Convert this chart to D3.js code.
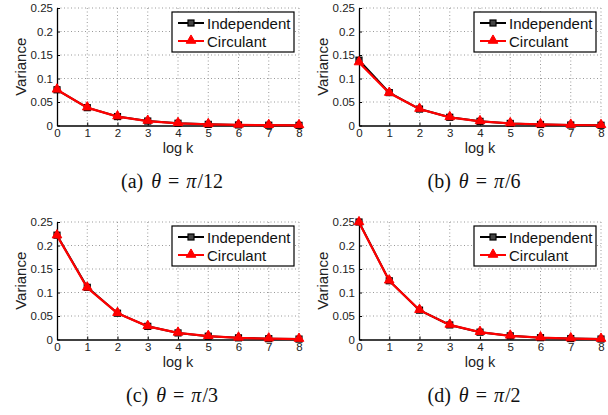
<!DOCTYPE html>
<html>
<head>
<meta charset="utf-8">
<script src="https://cdn.jsdelivr.net/npm/d3@7"></script>
<style>
  body { margin: 0; background: #fff; }
  svg { display: block; }
</style>
</head>
<body>
<svg id="fig"></svg>
<script>
const width = 608
const height = 415

// log k on the x axis
const logK = [0, 1, 2, 3, 4, 5, 6, 7, 8]
const xTicks = [0, 1, 2, 3, 4, 5, 6, 7, 8]
const yTicks = [0, 0.05, 0.1, 0.15, 0.2, 0.25]
const yTickLabels = ["0", "0.05", "0.1", "0.15", "0.2", "0.25"]

// variance
const indepA = [0.076, 0.038, 0.019, 0.0095, 0.0048, 0.0024, 0.0012, 0.0006, 0.0003]
const circA  = [0.076, 0.038, 0.019, 0.0095, 0.0047, 0.0024, 0.0012, 0.0006, 0.0003]
const indepB = [0.139, 0.070, 0.035, 0.0175, 0.0088, 0.0044, 0.0022, 0.0011, 0.0005]
const circB  = [0.134, 0.069, 0.035, 0.0173, 0.0087, 0.0043, 0.0022, 0.0011, 0.0005]
const indepC = [0.222, 0.111, 0.056, 0.028, 0.014, 0.007, 0.0035, 0.0017, 0.0009]
const circC  = [0.221, 0.110, 0.056, 0.028, 0.014, 0.007, 0.0035, 0.0017, 0.0009]
const indepD = [0.250, 0.125, 0.0625, 0.031, 0.0156, 0.0078, 0.0039, 0.002, 0.001]
const circD  = [0.249, 0.125, 0.0625, 0.031, 0.0156, 0.0078, 0.0039, 0.002, 0.001]

const captions = [
  ["(a)", "12"], ["(b)", "6"], ["(c)", "3"], ["(d)", "2"]
]

const panels = [
  { left: 57,  top: 8,   indep: indepA, circ: circA },
  { left: 359, top: 8,   indep: indepB, circ: circB },
  { left: 57,  top: 222, indep: indepC, circ: circC },
  { left: 359, top: 222, indep: indepD, circ: circD }
]
const pw = 242, ph = 117.5

const svg = d3.select("#fig")
              .attr("width", width)
              .attr("height", height)
              .attr("font-family", "'Liberation Sans', Arial, sans-serif")

const triangle = d3.symbol().type(d3.symbolTriangle).size(40)

panels.forEach(function(p, i) {
  const g = svg.append("g").attr("transform", `translate(${p.left},${p.top})`)

  const x = d3.scaleLinear().domain([0, 8]).range([0, pw])
  const y = d3.scaleLinear().domain([0, 0.25]).range([ph, 0])

  // dotted grid
  g.append("g").selectAll("line")
   .data(xTicks.slice(1))
   .join("line")
     .attr("x1", d => x(d)).attr("x2", d => x(d))
     .attr("y1", 0).attr("y2", ph)
     .attr("stroke", "#999").attr("stroke-width", 1)
     .attr("stroke-dasharray", "1,2.5")
  g.append("g").selectAll("line")
   .data(yTicks.slice(1))
   .join("line")
     .attr("x1", 0).attr("x2", pw)
     .attr("y1", d => y(d)).attr("y2", d => y(d))
     .attr("stroke", "#999").attr("stroke-width", 1)
     .attr("stroke-dasharray", "1,2.5")

  // axes
  const xAxis = d3.axisBottom(x).tickValues(xTicks).tickSizeInner(-3).tickSizeOuter(0).tickPadding(3)
  const yAxis = d3.axisLeft(y).tickValues(yTicks).tickSizeInner(-3).tickSizeOuter(0).tickPadding(4)
                  .tickFormat((d, j) => yTickLabels[j])
  const gx = g.append("g").attr("transform", `translate(0,${ph})`).call(xAxis)
  const gy = g.append("g").call(yAxis)
  ;[gx, gy].forEach(a => {
    a.select(".domain").attr("stroke", "#000").attr("stroke-width", 1.3)
    a.selectAll(".tick line").attr("stroke", "#000")
    a.selectAll("text").attr("font-size", 11.5).attr("fill", "#222")
      .attr("font-family", "'Liberation Sans', Arial, sans-serif")
  })

  // axis titles
  g.append("text")
   .attr("x", pw / 2).attr("y", ph + 27.5)
   .attr("text-anchor", "middle").attr("font-size", 14.5).attr("fill", "#222")
   .text("log k")
  g.append("text")
   .attr("transform", `translate(-31,${ph / 2}) rotate(-90)`)
   .attr("text-anchor", "middle").attr("font-size", 15).attr("fill", "#222")
   .text("Variance")

  const line = d3.line().x((d, j) => x(logK[j])).y(d => y(d))

  // Independent
  g.append("path").datum(p.indep)
   .attr("d", line).attr("fill", "none").attr("stroke", "#000").attr("stroke-width", 2)
  g.append("g").selectAll("rect")
   .data(p.indep)
   .join("rect")
     .attr("x", (d, j) => x(logK[j]) - 3).attr("y", d => y(d) - 3)
     .attr("width", 6).attr("height", 6)
     .attr("fill", "#444").attr("stroke", "#000").attr("stroke-width", 1.2)

  // Circulant
  g.append("path").datum(p.circ)
   .attr("d", line).attr("fill", "none").attr("stroke", "#f00").attr("stroke-width", 2.2)
  g.append("g").selectAll("path")
   .data(p.circ)
   .join("path")
     .attr("d", triangle)
     .attr("transform", (d, j) => `translate(${x(logK[j])},${y(d) - 0.5})`)
     .attr("fill", "#f00").attr("stroke", "#f00").attr("stroke-width", 1)

  // legend
  const lg = g.append("g").attr("transform", `translate(${pw - 127},4)`)
  lg.append("rect").attr("width", 122).attr("height", 40)
    .attr("fill", "#fff").attr("stroke", "#000").attr("stroke-width", 1.2)
  const rows = [
    { name: "Independent", color: "#000", y: 11 },
    { name: "Circulant", color: "#f00", y: 29 }
  ]
  rows.forEach(r => {
    lg.append("line").attr("x1", 6).attr("x2", 32).attr("y1", r.y).attr("y2", r.y)
      .attr("stroke", r.color).attr("stroke-width", 2)
    if (r.name === "Independent") {
      lg.append("rect").attr("x", 16).attr("y", r.y - 3).attr("width", 6).attr("height", 6)
        .attr("fill", "#444").attr("stroke", "#000").attr("stroke-width", 1.2)
    } else {
      lg.append("path").attr("d", triangle).attr("transform", `translate(19,${r.y - 0.5})`)
        .attr("fill", "#f00").attr("stroke", "#f00")
    }
    lg.append("text").attr("x", 35).attr("y", r.y + 5.5)
      .attr("font-size", 15).attr("fill", "#111").text(r.name)
  })

  // caption
  const cap = svg.append("text")
    .attr("x", p.left + pw / 2 - 6).attr("y", p.top + ph + 62)
    .attr("text-anchor", "middle")
    .attr("font-family", "'Liberation Serif', 'Times New Roman', serif")
    .attr("font-size", 20).attr("fill", "#111")
  cap.append("tspan").text(captions[i][0])
  cap.append("tspan").attr("dx", 8).attr("font-style", "italic").text("θ")
  cap.append("tspan").attr("dx", 7).text("=")
  cap.append("tspan").attr("dx", 7).attr("font-style", "italic").text("π")
  cap.append("tspan").attr("dx", 1).text("/" + captions[i][1])
})
</script>
</body>
</html>
